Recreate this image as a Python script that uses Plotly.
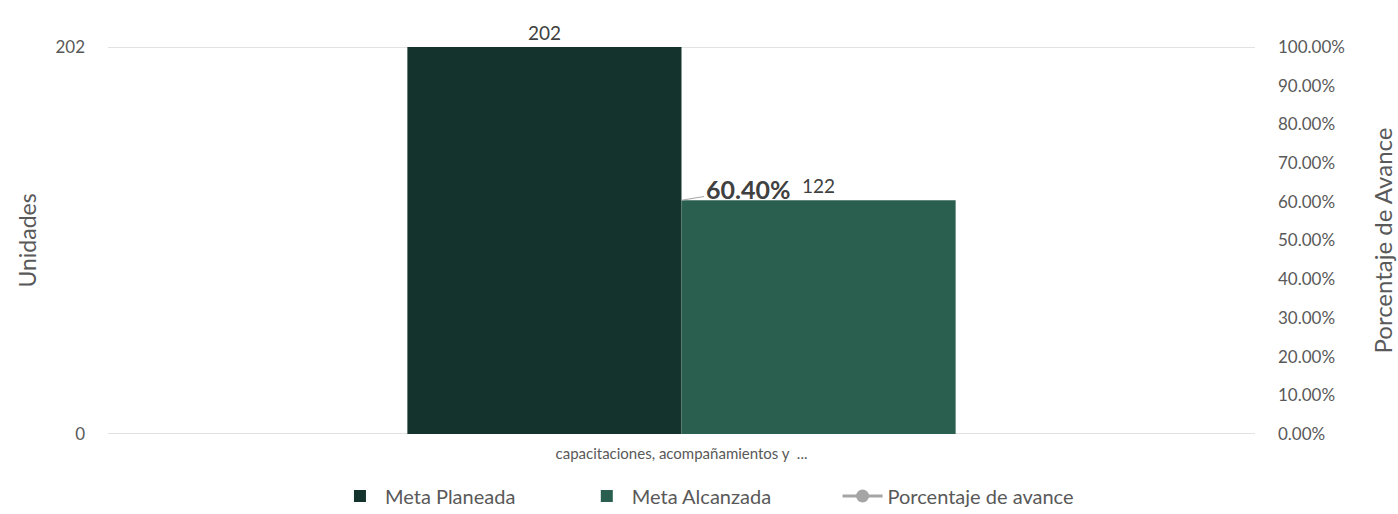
import plotly.graph_objects as go

categories = ["capacitaciones, acompañamientos y  ..."]
meta_planeada = [202]
meta_alcanzada = [122]
porcentaje_avance = [0.604]
left_ticks = [0, 202]

FONT = "Lato"
TXT = "#595959"
C_PLAN = "#15332d"
C_ALC = "#2a5f50"
C_LINE = "#a5a5a5"
NB = "\u00a0"

fig = go.Figure()
fig.add_trace(go.Bar(
    x=categories, y=meta_planeada, name="Meta Planeada" + NB * 12,
    marker=dict(color=C_PLAN, line=dict(width=0)),
    text=[str(v) for v in meta_planeada], textposition="outside",
    textfont=dict(family=FONT, size=19, color="#404040"),
    cliponaxis=False, hovertemplate="%{y}<extra>Meta Planeada</extra>",
))
fig.add_trace(go.Bar(
    x=categories, y=meta_alcanzada, name="Meta Alcanzada" + NB * 12,
    marker=dict(color=C_ALC, line=dict(width=0)),
    text=[str(v) for v in meta_alcanzada], textposition="outside",
    textfont=dict(family=FONT, size=19, color="#404040"),
    cliponaxis=False, hovertemplate="%{y}<extra>Meta Alcanzada</extra>",
))
# actual percentage series (marker not visible in the reference)
fig.add_trace(go.Scatter(
    x=categories, y=porcentaje_avance, yaxis="y2", mode="markers",
    marker=dict(color=C_LINE, size=9, opacity=0),
    showlegend=False, hoverinfo="skip",
))
# legend entry for the line series
fig.add_trace(go.Scatter(
    x=[None], y=[None], yaxis="y2", mode="lines+markers",
    name="Porcentaje de avance",
    line=dict(color=C_LINE, width=3), marker=dict(color=C_LINE, size=13),
))

for cat, p in zip(categories, porcentaje_avance):
    fig.add_annotation(
        x=cat, y=p, xref="x", yref="y2",
        text=f"<b>{p*100:.2f}%</b>",
        font=dict(family=FONT, size=25, color="#404040"),
        showarrow=True, arrowhead=0, arrowwidth=1.2, arrowcolor="#a6a6a6",
        ax=66, ay=-11, xanchor="center", yanchor="middle",
    )

# horizontal gridlines at the left-axis tick values
for t in left_ticks:
    fig.add_shape(type="line", xref="paper", yref="y", x0=0, x1=1, y0=t, y1=t,
                  line=dict(color="#d9d9d9", width=1.5), layer="below")

fig.update_layout(
    width=1398, height=514,
    margin=dict(l=108, r=143, t=47, b=80),
    paper_bgcolor="white", plot_bgcolor="white",
    font=dict(family=FONT, size=17, color=TXT),
    barmode="group", bargap=0.522, bargroupgap=0,
    showlegend=True,
    legend=dict(
        orientation="h", xref="container", yref="container",
        x=0.2396, y=0.035, xanchor="left", yanchor="middle",
        font=dict(family=FONT, size=20, color=TXT),
        itemwidth=40, traceorder="normal",
    ),
    xaxis=dict(
        type="category", showgrid=False, showline=False, zeroline=False,
        tickfont=dict(family=FONT, size=15, color=TXT), ticks="",
        ticklabelstandoff=9, automargin=False,
    ),
    yaxis=dict(
        range=[0, 202], tickvals=left_ticks, ticktext=[str(v) for v in left_ticks],
        showgrid=False, zeroline=False, showline=False,
        tickfont=dict(family=FONT, size=17, color=TXT),
        ticklabelstandoff=22, automargin=False,
        title=dict(text="Unidades", font=dict(family=FONT, size=23, color=TXT), standoff=12),
    ),
    yaxis2=dict(
        range=[0, 1], dtick=0.1, tickformat=".2%", overlaying="y", side="right",
        showgrid=False, zeroline=False, showline=False,
        tickfont=dict(family=FONT, size=17, color=TXT),
        ticklabelstandoff=22, automargin=False,
        title=dict(text="Porcentaje de Avance", font=dict(family=FONT, size=24, color=TXT), standoff=31),
    ),
)

fig.write_html(
    "out.html",
    config={"displayModeBar": False},
    post_script="document.body.style.margin='0';document.body.style.overflow='hidden';",
)
